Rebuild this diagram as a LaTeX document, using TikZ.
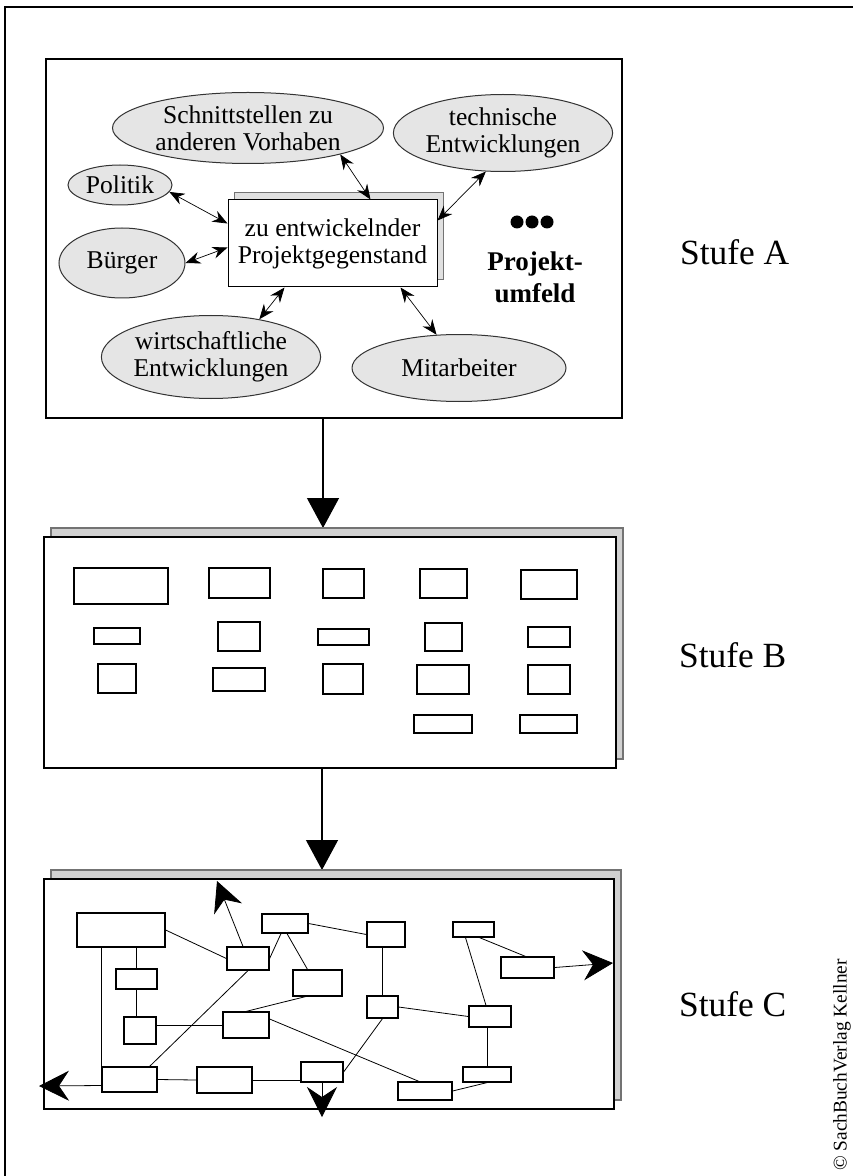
\documentclass[tikz,border=0pt]{standalone}
\usepackage{fontspec}
\setmainfont{Liberation Serif}
\usetikzlibrary{arrows.meta,fit,shadows,shapes.geometric}
\tikzset{
  umfeld/.style  = {ellipse, draw=black!80, fill=black!10, line width=0.5pt,
                    inner sep=0pt, align=center, font=\fontsize{12.8}{13.6}\selectfont},
  kern/.style    = {rectangle, draw, fill=white, line width=0.5pt, inner sep=0pt,
                    align=center, font=\fontsize{12.8}{13.6}\selectfont,
                    copy shadow={shadow xshift=3pt, shadow yshift=3.5pt,
                                 fill=black!12, draw=black!55}},
  stufe/.style   = {rectangle, draw, fill=white, line width=0.7pt, inner sep=0pt},
  stufesh/.style = {stufe, copy shadow={shadow xshift=3.5pt, shadow yshift=4.5pt,
                                        fill=black!18, draw=black!55}},
  kasten/.style  = {rectangle, draw, line width=0.6pt, inner sep=0pt},
  stlab/.style   = {anchor=west, font=\fontsize{17.7}{20}\selectfont},
  wechsel/.style = {{Stealth[length=7.5pt,width=6pt,inset=2.5pt]}-{Stealth[length=7.5pt,width=6pt,inset=2.5pt]},
                    line width=0.35pt},
  flow/.style    = {-{Triangle[length=15pt,width=16pt]}, line width=0.6pt},
  raus/.style    = {-{Stealth[length=15pt,width=15pt,inset=5pt]}, line width=0.4pt},
  netz/.style    = {line width=0.4pt},
}

\begin{document}
\begin{tikzpicture}[x=0.5pt, y=-0.5pt]
\useasboundingbox (0,0) rectangle (853,1176);
% outer frame
\draw[line width=0.8pt] (5,1176) -- (5,7) -- (853,7);

% Stufe A
\node[stufe, fit={(46,59) (622,418)}] (stA) {};
\node[umfeld, minimum width=135.5pt, minimum height=35.5pt] (schnitt) at (248,128) {Schnittstellen zu\\anderen Vorhaben};
\node[umfeld, minimum width=103pt, minimum height=38.5pt] (technik) at (503,133) {technische\\Entwicklungen};
\node[umfeld, minimum width=52pt, minimum height=20pt] (politik) at (120,185) {Politik};
\node[umfeld, minimum width=63pt, minimum height=35pt] (buerger) at (122,263) {Bürger};
\node[umfeld, minimum width=109pt, minimum height=41.5pt] (wirtschaft) at (211,357) {wirtschaftliche\\Entwicklungen};
\node[umfeld, minimum width=107pt, minimum height=33.5pt] (mitarb) at (459,368) {Mitarbeiter};
\node[kern, fit={(228,200) (437,287)}] (gegen) {};
\node at (gegen.center) [align=center, font=\fontsize{12.8}{13.6}\selectfont] (gegentxt) {zu entwickelnder\\Projektgegenstand};
\foreach \i/\x in {1/517,2/532,3/547}
  \node[circle, fill, inner sep=0pt, minimum size=6.5pt] (dot\i) at (\x,222) {};
\node[align=center, font=\bfseries\fontsize{13.5}{16}\selectfont] (pumfeld) at (535,277) {Projekt-\\umfeld};

\draw[wechsel] (schnitt.-16) -- ([xshift=19pt]gegen.north);
\draw[wechsel] (technik.-114) -- ([yshift=11.5pt]gegen.east);
\draw[wechsel] (politik.-8) -- ([yshift=10pt]gegen.west);
\draw[wechsel] (buerger.east) -- ([yshift=-2pt]gegen.west);
\draw[wechsel] (wirtschaft.38) -- ([xshift=-24pt]gegen.south);
\draw[wechsel] (mitarb.124) -- ([xshift=34pt]gegen.south);

\node[stlab] (labA) at (673,252) {Stufe A};

% Stufe B
\coordinate (zuB) at (323,528);
\draw[flow] (stA.south -| zuB) -- (zuB);
\node[stufesh, fit={(44,537) (616,768)}] (stB) {};
\node[kasten, fit={(74,568) (168,604)}] (b11) {};
\node[kasten, fit={(209,568) (270,598)}] (b12) {};
\node[kasten, fit={(323,569) (364,598)}] (b13) {};
\node[kasten, fit={(420,569) (467,598)}] (b14) {};
\node[kasten, fit={(521,570) (577,599)}] (b15) {};
\node[kasten, fit={(94,628) (140,644)}] (b21) {};
\node[kasten, fit={(218,622) (260,651)}] (b22) {};
\node[kasten, fit={(318,629) (369,645)}] (b23) {};
\node[kasten, fit={(425,623) (462,651)}] (b24) {};
\node[kasten, fit={(528,627) (570,647)}] (b25) {};
\node[kasten, fit={(98,664) (136,693)}] (b31) {};
\node[kasten, fit={(213,668) (265,691)}] (b32) {};
\node[kasten, fit={(323,664) (363,694)}] (b33) {};
\node[kasten, fit={(417,665) (469,694)}] (b34) {};
\node[kasten, fit={(528,665) (570,694)}] (b35) {};
\node[kasten, fit={(414,715) (472,733)}] (b44) {};
\node[kasten, fit={(520,715) (577,733)}] (b45) {};
\node[stlab] (labB) at (672,655) {Stufe B};

% Stufe C
\coordinate (zuC) at (322,870);
\draw[flow] (stB.south -| zuC) -- (zuC);
\node[stufesh, fit={(44,879) (614,1109)}] (stC) {};
\node[kasten, fit={(77,913) (165,947)}] (c1) {};
\node[kasten, fit={(262,914) (308,933)}] (c2) {};
\node[kasten, fit={(227,947) (269,970)}] (c3) {};
\node[kasten, fit={(293,970) (342,996)}] (c4) {};
\node[kasten, fit={(116,969) (157,989)}] (c5) {};
\node[kasten, fit={(124,1017) (156,1044)}] (c6) {};
\node[kasten, fit={(223,1012) (269,1038)}] (c7) {};
\node[kasten, fit={(102,1067) (157,1092)}] (c8) {};
\node[kasten, fit={(367,922) (405,947)}] (c9) {};
\node[kasten, fit={(453,922) (494,937)}] (c10) {};
\node[kasten, fit={(501,957) (554,978)}] (c11) {};
\node[kasten, fit={(367,996) (398,1018)}] (c12) {};
\node[kasten, fit={(469,1006) (511,1027)}] (c13) {};
\node[kasten, fit={(301,1062) (343,1082)}] (c14) {};
\node[kasten, fit={(463,1067) (511,1082)}] (c15) {};
\node[kasten, fit={(398,1082) (452,1100)}] (c16) {};
\node[kasten, fit={(197,1067) (252,1093)}] (c17) {};
\coordinate (aus1) at (217,881);
\coordinate (aus2) at (613,963);
\coordinate (aus3) at (39,1086);
\coordinate (aus4) at (322,1117);

\draw[netz] (c1.east) -- (c3.west);
\draw[netz] (c5.north |- c1.south) -- (c5.north);
\draw[netz] (c5.south) -- (c5.south |- c6.north);
\draw[netz] (c8.north west |- c1.south) -- (c8.north west);
\draw[netz] ([xshift=-2pt]c2.south) -- (c3.east);
\draw[netz] ([xshift=1pt]c2.south) -- ([xshift=-5pt]c4.north);
\draw[netz] (c2.east) -- (c9.west);
\draw[netz] (c3.south) -- ([xshift=-4pt]c8.north east);
\draw[netz] ([xshift=-6pt]c4.south) -- (c7.north);
\draw[netz] (c6.east |- c7.west) -- (c7.west);
\draw[netz] ([yshift=3pt]c7.east) -- ([xshift=-3pt]c16.north);
\draw[netz] (c12.north |- c9.south) -- (c12.north);
\draw[netz] ([xshift=-4pt]c10.south) -- ([xshift=-2pt]c13.north);
\draw[netz] ([xshift=3pt]c10.south) -- ([xshift=-1pt]c11.north);
\draw[netz] (c12.east) -- (c13.west);
\draw[netz] (c12.south) -- (c14.east);
\draw[netz] (c15.north |- c13.south) -- (c15.north);
\draw[netz] (c15.south) -- (c16.east);
\draw[netz] (c8.east) -- (c17.west);
\draw[netz] (c17.east) -- (c17.east -| c14.west);

\draw[raus] ([xshift=-2.5pt]c3.north) -- (aus1);
\draw[raus] (c11.east) -- (aus2);
\draw[raus] ([yshift=-3pt]c8.west) -- (aus3);
\draw[raus] (c14.south) -- (aus4);
\node[stlab] (labC) at (672,1004) {Stufe C};

\node[rotate=90, font=\fontsize{9.7}{11}\selectfont] (copyr) at (842,1065) {© SachBuchVerlag Kellner};
\end{tikzpicture}
\end{document}
